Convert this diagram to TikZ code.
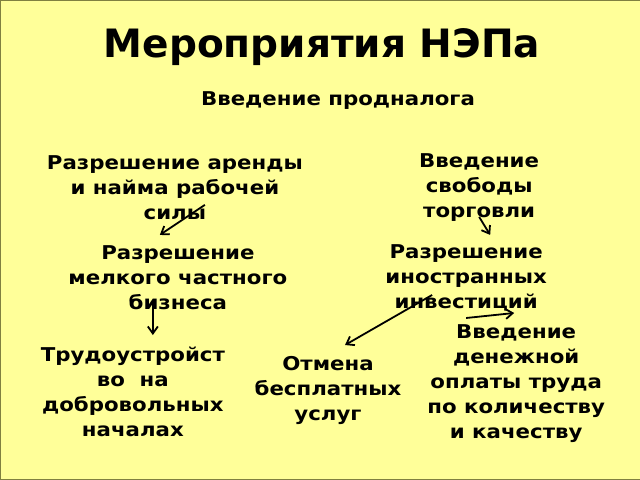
\documentclass[tikz,border=0pt]{standalone}
\usepackage{fontspec}
\setmainfont{DejaVu Sans}
\newfontfamily\widefont{DejaVu Sans}[FakeStretch=1.12]
\usetikzlibrary{arrows.meta}
\tikzset{
  txt/.style={align=center,font=\widefont\bfseries\fontsize{19}{25}\selectfont,inner sep=0pt},
  arr/.style={line width=1.8pt,-{Straight Barb[length=7pt,width=10pt]}}
}
\begin{document}
\begin{tikzpicture}[x=1pt,y=-1pt]
        \draw[fill={rgb,255:red,255;green,255;blue,153},draw={rgb,255:red,128;green,128;blue,64}] (0.5,0.5) rectangle (639.5,479.5);
        \node[font=\bfseries\fontsize{39}{44}\selectfont,inner sep=0pt] (title) at (322,47) {Мероприятия НЭПа};
        \node[txt] (tax) at (338,101) {Введение продналога};
        \node[txt] (lease) at (175,188) {Разрешение аренды\\и найма рабочей\\силы};
        \node[txt] (trade) at (479,188) {Введение\\свободы\\торговли};
        \node[txt] (business) at (178,278) {Разрешение\\мелкого частного\\бизнеса};
        \node[txt] (foreign) at (466,278) {Разрешение\\иностранных\\инвестиций};
        \node[txt] (work) at (133,392) {Трудоустройст\\во~~на\\добровольных\\началах};
        \node[txt] (cancel) at (328,390) {Отмена\\бесплатных\\услуг};
        \node[txt] (wages) at (516,384) {Введение\\денежной\\оплаты труда\\по количеству\\и качеству};
        % arrows
        \draw[arr] ([shift={(30,17)}]lease.center) -- ([shift={(-18,-43)}]business.center);
        \draw[arr] ([shift={(0,29)}]trade.center) -- ([shift={(11,47)}]trade.center);
        \draw[arr] ([shift={(-25,22)}]business.center) -- ([shift={(20,-57)}]work.center);
        \draw[arr] ([shift={(-34,17)}]foreign.center) -- ([shift={(17,-45)}]cancel.center);
        \draw[arr] ([shift={(-50,-66)}]wages.center) -- ([shift={(-2,-71)}]wages.center);
\end{tikzpicture}
\end{document}
